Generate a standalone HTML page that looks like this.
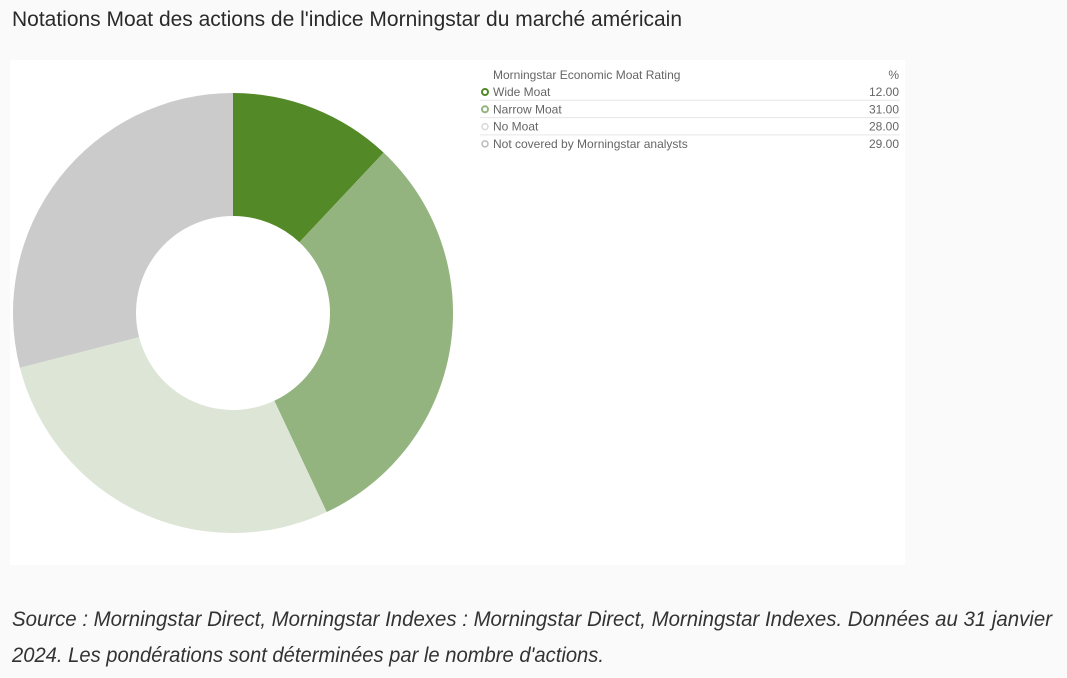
<!DOCTYPE html>
<html><head><meta charset="utf-8"><style>
html,body{margin:0;padding:0;background:#fafafa;}
svg{display:block;}
text{font-family:"Liberation Sans Narrow","Liberation Sans",sans-serif;}
</style></head><body>
<svg width="1067" height="678" viewBox="0 0 1067 678">
<text x="12" y="26" font-size="21" fill="#2a2a2a" textLength="670" lengthAdjust="spacingAndGlyphs">Notations Moat des actions de l'indice Morningstar du marché américain</text>
<rect x="10" y="60" width="895" height="505" fill="#ffffff"/>
<g id="donut"></g>
<g id="legend"></g>
<text x="12" y="626" font-size="21" font-style="italic" fill="#333" textLength="1040" lengthAdjust="spacingAndGlyphs">Source : Morningstar Direct, Morningstar Indexes : Morningstar Direct, Morningstar Indexes. Données au 31 janvier</text>
<text x="12" y="662" font-size="21" font-style="italic" fill="#333" textLength="592" lengthAdjust="spacingAndGlyphs">2024. Les pondérations sont déterminées par le nombre d'actions.</text>
</svg>
<script>
const categories = ["Wide Moat","Narrow Moat","No Moat","Not covered by Morningstar analysts"];
const values = [12, 31, 28, 29];
const valueLabels = ["12.00","31.00","28.00","29.00"];
const colors = ["#548927","#94b47f","#dde6d6","#cbcbcb"];
const NS="http://www.w3.org/2000/svg";
const cx=233, cy=313, R=220, r=97;
const total=values.reduce((a,b)=>a+b,0);
const g=document.getElementById('donut');
let acc=0;
function pt(a,rad){return [cx+rad*Math.sin(a), cy-rad*Math.cos(a)];}
values.forEach((v,i)=>{
  const a0=acc/total*2*Math.PI; acc+=v; const a1=acc/total*2*Math.PI;
  const large=(a1-a0)>Math.PI?1:0;
  const [x0,y0]=pt(a0,R),[x1,y1]=pt(a1,R),[x2,y2]=pt(a1,r),[x3,y3]=pt(a0,r);
  const p=document.createElementNS(NS,'path');
  p.setAttribute('d',`M${x0},${y0}A${R},${R} 0 ${large} 1 ${x1},${y1}L${x2},${y2}A${r},${r} 0 ${large} 0 ${x3},${y3}Z`);
  p.setAttribute('fill',colors[i]);
  
  
  g.appendChild(p);
});
const lg=document.getElementById('legend');
function txt(x,y,s,anchor,fill){const t=document.createElementNS(NS,'text');t.setAttribute('x',x);t.setAttribute('y',y);t.setAttribute('font-size','12');t.setAttribute('fill',fill||'#666');if(anchor)t.setAttribute('text-anchor',anchor);t.textContent=s;lg.appendChild(t);return t;}
const h=txt(493,79,"Morningstar Economic Moat Rating");


const hp=txt(899,79,"%","end");


categories.forEach((c,i)=>{
  const y=96+i*17.3;
  const circ=document.createElementNS(NS,'circle');
  circ.setAttribute('cx',485);circ.setAttribute('cy',y-4);circ.setAttribute('r',3);
  circ.setAttribute('fill','none');circ.setAttribute('stroke',i===2?'#d8d8d8':(i===3?'#bbb':colors[i]));circ.setAttribute('stroke-width',i<2?2:1.5);
  
  
  lg.appendChild(circ);
  const t=txt(493,y,c);
  
  
  const vt=txt(899,y,valueLabels[i],"end");
  
  
  if(i>0){const ln=document.createElementNS(NS,'line');ln.setAttribute('x1',480);ln.setAttribute('x2',900);ln.setAttribute('y1',y-13);ln.setAttribute('y2',y-13);ln.setAttribute('stroke','#e6e6e6');
  
  
  lg.appendChild(ln);}
});
</script>
</body></html>
